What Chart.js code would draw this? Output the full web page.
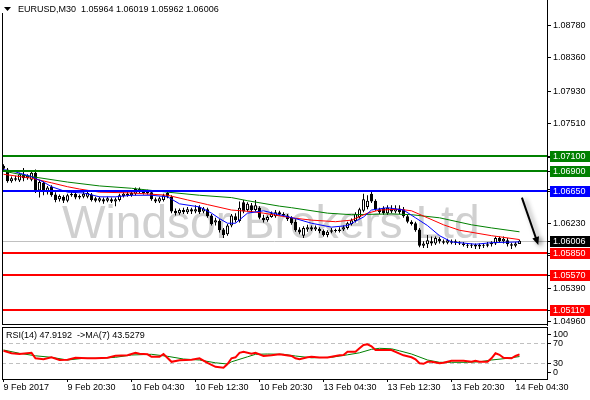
<!DOCTYPE html>
<html><head><meta charset="utf-8">
<script src="https://cdn.jsdelivr.net/npm/chart.js@4"></script>
<style>
html,body{margin:0;padding:0;background:#fff;width:590px;height:400px;overflow:hidden}
#c1{position:absolute;left:0;top:0}
#c2{position:absolute;left:0;top:326px}
</style></head><body>
<canvas id="c1" width="590" height="326"></canvas>
<canvas id="c2" width="590" height="74"></canvas>
<script>
// ---------- DATA ----------
const symbolTitle = 'EURUSD,M30';
const ohlcTitle = ['1.05964', '1.06019', '1.05962', '1.06006'];
const watermark = 'Windsor Brokers Ltd';
const lastPrice = 1.06006;

// candles, one per M30 bar, starting 9 Feb 2017 12:30
const barOpen = [1.0697,1.0692,1.0677,1.0681,1.0678,1.0685,1.0681,1.0679,1.0688,1.0665,
1.0675,1.0663,1.0670,1.0660,1.0654,1.0657,1.0652,1.0659,1.0661,1.0656,
1.0657,1.0657,1.0660,1.0655,1.0652,1.0654,1.0652,1.0654,1.0651,1.0653,
1.0658,1.0661,1.0659,1.0661,1.0667,1.0664,1.0662,1.0663,1.0654,1.0651,
1.0653,1.0662,1.0657,1.0639,1.0636,1.0640,1.0637,1.0641,1.0638,1.0644,
1.0638,1.0641,1.0633,1.0624,1.0626,1.0615,1.0609,1.0620,1.0632,1.0626,
1.0650,1.0640,1.0646,1.0640,1.0643,1.0630,1.0627,1.0631,1.0632,1.0637,
1.0635,1.0633,1.0630,1.0625,1.0615,1.0607,1.0615,1.0618,1.0615,1.0616,
1.0613,1.0608,1.0612,1.0614,1.0613,1.0615,1.0617,1.0622,1.0626,1.0631,
1.0639,1.0644,1.0661,1.0652,1.0641,1.0643,1.0636,1.0642,1.0638,1.0642,
1.0641,1.0632,1.0625,1.0623,1.0615,1.0594,1.0596,1.0600,1.0597,1.0603,
1.0600,1.0598,1.0600,1.0598,1.0598,1.0597,1.0595,1.0594,1.0595,1.0593,
1.0595,1.0594,1.0596,1.0597,1.0604,1.0600,1.0601,1.0596,1.0594,1.05964];
const barHigh = [1.0699,1.0694,1.0683,1.0684,1.0688,1.0694,1.0686,1.0690,1.0692,1.0679,
1.0677,1.0671,1.0672,1.0663,1.0660,1.0659,1.0661,1.0664,1.0663,1.0660,
1.0664,1.0665,1.0662,1.0657,1.0657,1.0656,1.0657,1.0656,1.0656,1.0661,
1.0663,1.0664,1.0665,1.0669,1.0669,1.0666,1.0666,1.0665,1.0656,1.0657,
1.0661,1.0664,1.0659,1.0642,1.0642,1.0643,1.0644,1.0643,1.0646,1.0646,
1.0644,1.0643,1.0635,1.0630,1.0628,1.0617,1.0622,1.0635,1.0636,1.0651,
1.0653,1.0650,1.0649,1.0653,1.0645,1.0634,1.0633,1.0638,1.0640,1.0639,
1.0637,1.0635,1.0632,1.0628,1.0618,1.0619,1.0621,1.0620,1.0620,1.0618,
1.0615,1.0614,1.0617,1.0616,1.0618,1.0620,1.0625,1.0629,1.0637,1.0643,
1.0661,1.0659,1.0665,1.0654,1.0643,1.0645,1.0646,1.0646,1.0646,1.0646,
1.0644,1.0634,1.0627,1.0625,1.0617,1.0600,1.0608,1.0606,1.0606,1.0605,
1.0602,1.0603,1.0602,1.0602,1.0600,1.0599,1.0597,1.0597,1.0597,1.0597,
1.0597,1.0599,1.0600,1.0606,1.0606,1.0606,1.0604,1.0598,1.0599,1.06019];
const barLow = [1.0690,1.0675,1.0675,1.0677,1.0676,1.0677,1.0679,1.0677,1.0662,1.0656,
1.0659,1.0660,1.0657,1.0650,1.0651,1.0649,1.0650,1.0657,1.0654,1.0654,
1.0655,1.0655,1.0651,1.0650,1.0650,1.0648,1.0650,1.0649,1.0645,1.0651,
1.0656,1.0657,1.0657,1.0659,1.0662,1.0660,1.0660,1.0652,1.0649,1.0649,
1.0651,1.0655,1.0636,1.0633,1.0634,1.0635,1.0635,1.0635,1.0636,1.0635,
1.0636,1.0630,1.0620,1.0620,1.0611,1.0604,1.0607,1.0618,1.0624,1.0624,
1.0636,1.0638,1.0637,1.0638,1.0628,1.0624,1.0625,1.0630,1.0630,1.0633,
1.0631,1.0626,1.0621,1.0612,1.0609,1.0604,1.0612,1.0613,1.0613,1.0610,
1.0606,1.0605,1.0610,1.0611,1.0611,1.0613,1.0615,1.0620,1.0624,1.0629,
1.0637,1.0641,1.0649,1.0639,1.0635,1.0634,1.0634,1.0636,1.0636,1.0635,
1.0630,1.0623,1.0620,1.0612,1.0592,1.0591,1.0591,1.0594,1.0595,1.0597,
1.0596,1.0596,1.0596,1.0595,1.0595,1.0593,1.0591,1.0591,1.0590,1.0590,
1.0591,1.0592,1.0593,1.0595,1.0598,1.0597,1.0593,1.0590,1.0592,1.05962];
const barClose = [1.0693,1.0677,1.0681,1.0679,1.0686,1.0681,1.0684,1.0688,1.0664,1.0676,
1.0664,1.0669,1.0659,1.0653,1.0658,1.0652,1.0659,1.0661,1.0656,1.0658,
1.0661,1.0662,1.0653,1.0652,1.0655,1.0651,1.0655,1.0651,1.0654,1.0659,
1.0661,1.0659,1.0662,1.0667,1.0664,1.0662,1.0664,1.0654,1.0651,1.0655,
1.0659,1.0657,1.0638,1.0636,1.0640,1.0637,1.0641,1.0638,1.0641,1.0637,
1.0642,1.0632,1.0622,1.0627,1.0614,1.0608,1.0620,1.0633,1.0627,1.0643,
1.0638,1.0648,1.0640,1.0646,1.0630,1.0627,1.0631,1.0636,1.0637,1.0635,
1.0633,1.0628,1.0623,1.0614,1.0611,1.0617,1.0618,1.0615,1.0618,1.0613,
1.0608,1.0612,1.0614,1.0613,1.0615,1.0618,1.0623,1.0627,1.0635,1.0641,
1.0654,1.0652,1.0651,1.0641,1.0637,1.0636,1.0643,1.0638,1.0642,1.0637,
1.0632,1.0625,1.0622,1.0614,1.0594,1.0597,1.0601,1.0597,1.0604,1.0600,
1.0598,1.0601,1.0598,1.0600,1.0597,1.0595,1.0594,1.0595,1.0593,1.0595,
1.0594,1.0596,1.0598,1.0604,1.0600,1.0603,1.0596,1.0594,1.0597,1.06006];

// moving averages (bar index, price)
const maSlowBar = [0,7,16,24,32,41,49,57,61,69,72,81,87,97,102,109,117,122,129];
const maSlowVal = [1.0690,1.0683,1.0676,1.0671,1.0668,1.0663,1.0659,1.0656,1.0652,1.0645,1.0643,1.0636,1.0634,1.0635,1.0634,1.0630,1.0621,1.0617,1.0612];
const maMidBar = [0,7,12,16,19,24,32,41,46,51,57,62,65,72,77,83,87,91,94,99,102,106,110,114,122,129];
const maMidVal = [1.0686,1.0681,1.0675,1.0670,1.0667,1.0663,1.0662,1.0659,1.0653,1.0647,1.0640,1.0638,1.0636,1.0630,1.0627,1.0625,1.0627,1.0636,1.0640,1.0641,1.0639,1.0630,1.0621,1.0614,1.0607,1.0602];
const maFastBar = [0,3,7,10,12,16,20,24,28,32,37,41,44,49,52,54,56,58,61,65,69,73,77,82,86,90,92,96,100,103,106,109,112,118,122,129];
const maFastVal = [1.0692,1.0689,1.0683,1.0676,1.0670,1.0663,1.0662,1.0657,1.0657,1.0659,1.0659,1.0657,1.0648,1.0644,1.0636,1.0629,1.0623,1.0623,1.0636,1.0639,1.0634,1.0629,1.0623,1.0618,1.0620,1.0631,1.0640,1.0643,1.0640,1.0630,1.0620,1.0607,1.0599,1.0596,1.0598,1.0599];

// horizontal levels
const levelValues = [1.0710, 1.0690, 1.0665, 1.0585, 1.0557, 1.0511];
// price axis ticks
const priceTicks = [1.0878, 1.0836, 1.0793, 1.0751, 1.0708, 1.0666, 1.0623, 1.0581, 1.0539, 1.0496];
// time axis
const timeTickBars = [0, 16, 32, 48, 64, 80, 96, 112, 128];
const timeLabels = ['9 Feb 2017','9 Feb 20:30','10 Feb 04:30','10 Feb 12:30','10 Feb 20:30','13 Feb 04:30','13 Feb 12:30','13 Feb 20:30','14 Feb 04:30'];
// arrow annotation (bar index, price)
const arrowFrom = [129.6, 1.0656];
const arrowTo = [133.7, 1.0595];

// RSI panel
const rsiTitle = 'RSI(14) 47.9192  ->MA(7) 43.5279';
const rsiBar = [0,2,4,7,8,10,12,14,16,18,21,23,26,28,31,33,34,36,37,39,40,42,44,47,49,51,53,55,56,57,58,59,60,62,63,65,67,69,72,73,74,76,77,79,81,82,84,85,86,88,89,90,91,92,93,97,98,100,102,103,104,105,106,107,109,110,112,115,117,118,119,121,122,123,124,125,127,128,129];
const rsiVal = [55,50,48.6,51,40,38,42,36.6,37,41,40,40,41,45,46,51,49,48,43,43,48.6,33,36,37,40,31,23,21,28.6,40,42,51,53,49,51,44.6,46,48,44.6,40,38,42,43,41.5,41.5,43,46,46.6,53,53,60,66.6,68,64,56.6,56.6,53,46,42,38,30,29,33,33,30,31,35,35,33,35,33,33,40,50,47,41,40,44.6,47.9192];
const rsiMaBar = [0,4,8,12,16,20,24,28,32,37,41,45,49,53,56,57,61,63,66,70,73,77,82,86,89,92,94,97,99,102,106,109,112,116,119,122,126,129];
const rsiMaVal = [56.6,50,45,42,36.6,40,40,42,46.6,48,44,38.6,36.6,31,28.6,33,43,48,48.6,48,44.6,41,42,47,51,58,60,59,55,48.6,36.6,32,32,32,33,36.6,40,43.5279];
const rsiLevels = [70, 30];
const rsiAxisLabels = [100, 70, 30, 0];

// ---------- STYLE / LAYOUT ----------
const FONT = '"Liberation Sans", Arial, sans-serif';
Chart.defaults.font.family = FONT;
Chart.defaults.font.size = 9;
Chart.defaults.color = '#000';
const xMin = -0.375, xMax = 135.875;
const priceMin = 1.04921, priceMax = 1.09102;
const rsiMin = -1.4, rsiMax = 102.6;
const levelColors = ['#008000', '#008000', '#0000ff', '#ff0000', '#ff0000', '#ff0000'];

const pts = (xs, ys) => xs.map((v, k) => ({ x: v, y: ys[k] }));
const wickData = barOpen.map((o, k) => ({ x: k, y: [barLow[k], barHigh[k]] }));
const bodyData = barOpen.map((o, k) => ({ x: k, y: [Math.min(o, barClose[k]), Math.max(o, barClose[k])] }));
const bodyColors = barOpen.map((o, k) => barClose[k] >= o ? '#ffffff' : '#000000');

function drawBox(ctx, yPix, color, text) {
  const yy = Math.round(yPix);
  ctx.fillStyle = color;
  ctx.fillRect(550, yy - 5, 40, 11);
  ctx.fillStyle = '#fff';
  ctx.font = '9px ' + FONT;
  ctx.textAlign = 'left';
  ctx.textBaseline = 'middle';
  ctx.fillText(text, 553, yy + 0.5);
  ctx.strokeStyle = '#000';
  ctx.lineWidth = 1;
  ctx.beginPath(); ctx.moveTo(547, yy + 0.5); ctx.lineTo(550, yy + 0.5); ctx.stroke();
}

const mainDecor = {
  id: 'mainDecor',
  beforeDatasetsDraw(chart) {
    const { ctx, chartArea: a, scales: { y } } = chart;
    ctx.save();
    ctx.beginPath(); ctx.rect(a.left, a.top, a.width, a.height); ctx.clip();
    ctx.font = '40px ' + FONT;
    const w = ctx.measureText(watermark).width;
    const size = 40 * 418 / w;
    ctx.font = size.toFixed(1) + 'px ' + FONT;
    ctx.fillStyle = '#d0d0d0';
    ctx.textAlign = 'left';
    ctx.textBaseline = 'alphabetic';
    ctx.fillText(watermark, 62, 238);
    const py = Math.round(y.getPixelForValue(lastPrice)) + 0.5;
    ctx.strokeStyle = '#c0c0c0'; ctx.lineWidth = 1;
    ctx.beginPath(); ctx.moveTo(a.left, py); ctx.lineTo(a.right, py); ctx.stroke();
    ctx.restore();
  },
  afterDatasetsDraw(chart) {
    const { ctx, chartArea: a, scales: { x, y } } = chart;
    ctx.save();
    ctx.beginPath(); ctx.rect(a.left, a.top, a.width, a.height); ctx.clip();
    levelValues.forEach((v, k) => {
      const py = Math.round(y.getPixelForValue(v));
      ctx.fillStyle = levelColors[k];
      ctx.fillRect(a.left, py - 1, a.width, 2);
    });
    // arrow
    const x1 = x.getPixelForValue(arrowFrom[0]), y1 = y.getPixelForValue(arrowFrom[1]);
    const x2 = x.getPixelForValue(arrowTo[0]), y2 = y.getPixelForValue(arrowTo[1]);
    const ang = Math.atan2(y2 - y1, x2 - x1);
    ctx.shadowColor = 'rgba(0,0,0,0.45)';
    ctx.shadowBlur = 5; ctx.shadowOffsetX = 3; ctx.shadowOffsetY = 2;
    ctx.strokeStyle = '#000'; ctx.fillStyle = '#000'; ctx.lineWidth = 2;
    ctx.beginPath(); ctx.moveTo(x1, y1); ctx.lineTo(x2 - 5 * Math.cos(ang), y2 - 5 * Math.sin(ang)); ctx.stroke();
    ctx.beginPath();
    ctx.moveTo(x2, y2);
    ctx.lineTo(x2 - 8 * Math.cos(ang) + 3.5 * Math.sin(ang), y2 - 8 * Math.sin(ang) - 3.5 * Math.cos(ang));
    ctx.lineTo(x2 - 8 * Math.cos(ang) - 3.5 * Math.sin(ang), y2 - 8 * Math.sin(ang) + 3.5 * Math.cos(ang));
    ctx.closePath(); ctx.fill();
    ctx.restore();
  },
  afterDraw(chart) {
    const { ctx, chartArea: a, scales: { y } } = chart;
    ctx.save();
    ctx.strokeStyle = '#000'; ctx.lineWidth = 1;
    ctx.beginPath();
    ctx.moveTo(a.left + 0.5, 13); ctx.lineTo(a.left + 0.5, a.bottom);
    ctx.moveTo(a.left, a.bottom - 0.5); ctx.lineTo(a.right + 1, a.bottom - 0.5);
    ctx.stroke();
    levelValues.forEach((v, k) => drawBox(ctx, y.getPixelForValue(v), levelColors[k], v.toFixed(5)));
    drawBox(ctx, y.getPixelForValue(lastPrice), '#000', lastPrice.toFixed(5));
    // title
    ctx.fillStyle = '#000';
    ctx.beginPath(); ctx.moveTo(4, 7); ctx.lineTo(11, 7); ctx.lineTo(7.5, 11); ctx.closePath(); ctx.fill();
    ctx.font = '9px ' + FONT; ctx.textAlign = 'left'; ctx.textBaseline = 'middle';
    ctx.fillText(symbolTitle + '  ' + ohlcTitle.join(' '), 18, 10);
    ctx.restore();
  }
};

new Chart(document.getElementById('c1'), {
  type: 'bar',
  data: {
    datasets: [
      { type: 'line', data: pts(maFastBar, maFastVal), borderColor: '#0000ff', borderWidth: 1, pointRadius: 0, tension: 0, order: 0 },
      { type: 'line', data: pts(maMidBar, maMidVal), borderColor: '#ff0000', borderWidth: 1, pointRadius: 0, tension: 0, order: 1 },
      { type: 'line', data: pts(maSlowBar, maSlowVal), borderColor: '#008000', borderWidth: 1, pointRadius: 0, tension: 0, order: 2 },
      { type: 'bar', data: bodyData, backgroundColor: bodyColors, borderColor: '#000', borderWidth: 1, borderSkipped: false,
        barThickness: 3, grouped: false, minBarLength: 1, inflateAmount: 0, order: 3 },
      { type: 'bar', data: wickData, backgroundColor: '#000', borderWidth: 0, barThickness: 1, grouped: false, inflateAmount: 0, order: 4 }
    ]
  },
  options: {
    responsive: false, animation: false, events: [], devicePixelRatio: 1,
    layout: { padding: { left: 2, top: 0, bottom: 1, right: 0 } },
    plugins: { legend: { display: false }, tooltip: { enabled: false } },
    scales: {
      x: { type: 'linear', min: xMin, max: xMax, display: false, offset: false },
      y: {
        type: 'linear', position: 'right', min: priceMin, max: priceMax,
        afterBuildTicks: s => { s.ticks = priceTicks.map(v => ({ value: v })); },
        afterFit: s => { s.width = 43; s.paddingTop = 0; s.paddingBottom = 0; },
        ticks: { callback: v => Number(v).toFixed(5), padding: 2, color: '#000', font: { size: 9 } },
        grid: { drawOnChartArea: false, tickLength: 4, color: '#000' },
        border: { color: '#000' }
      }
    }
  },
  plugins: [mainDecor]
});

const rsiDecor = {
  id: 'rsiDecor',
  beforeDatasetsDraw(chart) {
    const { ctx, chartArea: a, scales: { y } } = chart;
    ctx.save();
    ctx.strokeStyle = '#c0c0c0'; ctx.lineWidth = 1; ctx.setLineDash([4, 3]);
    rsiLevels.forEach(v => {
      const py = Math.round(y.getPixelForValue(v)) + 0.5;
      ctx.beginPath(); ctx.moveTo(a.left, py); ctx.lineTo(a.right, py); ctx.stroke();
    });
    ctx.restore();
  },
  afterDraw(chart) {
    const { ctx, chartArea: a, scales: { y } } = chart;
    ctx.save();
    ctx.strokeStyle = '#000'; ctx.lineWidth = 1;
    ctx.beginPath();
    ctx.moveTo(a.left, a.top + 0.5); ctx.lineTo(a.right + 1, a.top + 0.5);
    ctx.moveTo(a.left + 0.5, a.top); ctx.lineTo(a.left + 0.5, a.bottom);
    ctx.moveTo(a.right + 0.5, a.top); ctx.lineTo(a.right + 0.5, a.bottom);
    ctx.stroke();
    ctx.font = '9px ' + FONT; ctx.fillStyle = '#000'; ctx.textAlign = 'left'; ctx.textBaseline = 'middle';
    rsiAxisLabels.forEach(v => {
      let py = y.getPixelForValue(v);
      py = Math.round(Math.min(Math.max(py, a.top + 7), a.bottom - 7));
      ctx.beginPath(); ctx.moveTo(a.right, py + 0.5); ctx.lineTo(a.right + 4, py + 0.5); ctx.stroke();
      ctx.fillText(String(v), a.right + 6, py + 0.5);
    });
    ctx.fillText(rsiTitle, 6, a.top + 9);
    ctx.restore();
  }
};

new Chart(document.getElementById('c2'), {
  type: 'line',
  data: {
    datasets: [
      { data: pts(rsiBar, rsiVal), borderColor: '#ff0000', borderWidth: 2, pointRadius: 0, tension: 0, order: 0 },
      { data: pts(rsiMaBar, rsiMaVal), borderColor: '#008000', borderWidth: 1, pointRadius: 0, tension: 0, order: 1 }
    ]
  },
  options: {
    responsive: false, animation: false, events: [], devicePixelRatio: 1,
    layout: { padding: { left: 2, top: 1, bottom: 0, right: 43 } },
    plugins: { legend: { display: false }, tooltip: { enabled: false } },
    scales: {
      x: {
        type: 'linear', min: xMin, max: xMax, offset: false,
        afterBuildTicks: s => { s.ticks = timeTickBars.map(v => ({ value: v })); },
        afterFit: s => { s.height = 21; },
        ticks: { callback: (v, i) => timeLabels[i], align: 'start', maxRotation: 0, autoSkip: false, padding: 0, color: '#000', font: { size: 9 } },
        grid: { drawOnChartArea: false, tickLength: 3, color: '#000' },
        border: { color: '#000' }
      },
      y: { type: 'linear', display: false, min: rsiMin, max: rsiMax }
    }
  },
  plugins: [rsiDecor]
});
</script>
</body></html>
